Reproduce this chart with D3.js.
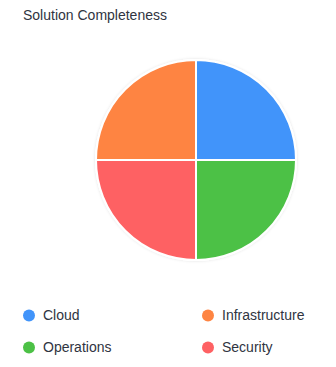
<!DOCTYPE html>
<html>
<head>
<meta charset="utf-8">
<script src="https://cdn.jsdelivr.net/npm/d3@7"></script>
<style>
  body { margin: 0; background: #fff; }
  text { font-family: "Liberation Sans", Arial, sans-serif; }
</style>
</head>
<body>
<div id="chart"></div>
<script>
const categories = ["Cloud", "Operations", "Security", "Infrastructure"];
const values = [25, 25, 25, 25];
const colors = ["#4194fa", "#4cc146", "#fe6163", "#fe8442"];
const legendOrder = ["Cloud", "Infrastructure", "Operations", "Security"];

const width = 336;
const height = 367;
const cx = 196, cy = 160, radius = 100;

const svg = d3.select("#chart")
  .append("svg")
  .attr("width", width)
  .attr("height", height);

// soft shadow round the pie
const defs = svg.append("defs");
const filter = defs.append("filter")
  .attr("id", "shadow")
  .attr("x", "-20%").attr("y", "-20%")
  .attr("width", "140%").attr("height", "140%");
filter.append("feDropShadow")
  .attr("dx", 0).attr("dy", 0)
  .attr("stdDeviation", 1.5)
  .attr("flood-color", "#000")
  .attr("flood-opacity", 0.12);

svg.append("text")
  .attr("x", 23)
  .attr("y", 20)
  .attr("font-size", "14px")
  .attr("fill", "#2f3441")
  .text("Solution Completeness");

const color = d3.scaleOrdinal().domain(categories).range(colors);

const pie = d3.pie().sort(null).value(d => d.value);
const arc = d3.arc().innerRadius(0).outerRadius(radius);

const data = categories.map((c, i) => ({ name: c, value: values[i] }));

const g = svg.append("g")
  .attr("transform", `translate(${cx}, ${cy})`);

g.append("circle")
  .attr("r", radius + 1)
  .attr("fill", "#fff")
  .attr("filter", "url(#shadow)");

g.selectAll("path")
  .data(pie(data))
  .enter()
  .append("path")
  .attr("d", arc)
  .attr("fill", d => color(d.data.name))
  .attr("stroke", "#fff")
  .attr("stroke-width", 2);

// legend, two columns
const legend = svg.append("g");
const item = legend.selectAll("g")
  .data(legendOrder)
  .enter()
  .append("g")
  .attr("transform", (d, i) => `translate(${i % 2 === 0 ? 29 : 208}, ${i < 2 ? 315.5 : 347.5})`);

item.append("circle")
  .attr("r", 6)
  .attr("fill", d => color(d));

item.append("text")
  .attr("x", 14)
  .attr("dy", "0.35em")
  .attr("font-size", "14px")
  .attr("fill", "#2f3441")
  .text(d => d);
</script>
</body>
</html>
